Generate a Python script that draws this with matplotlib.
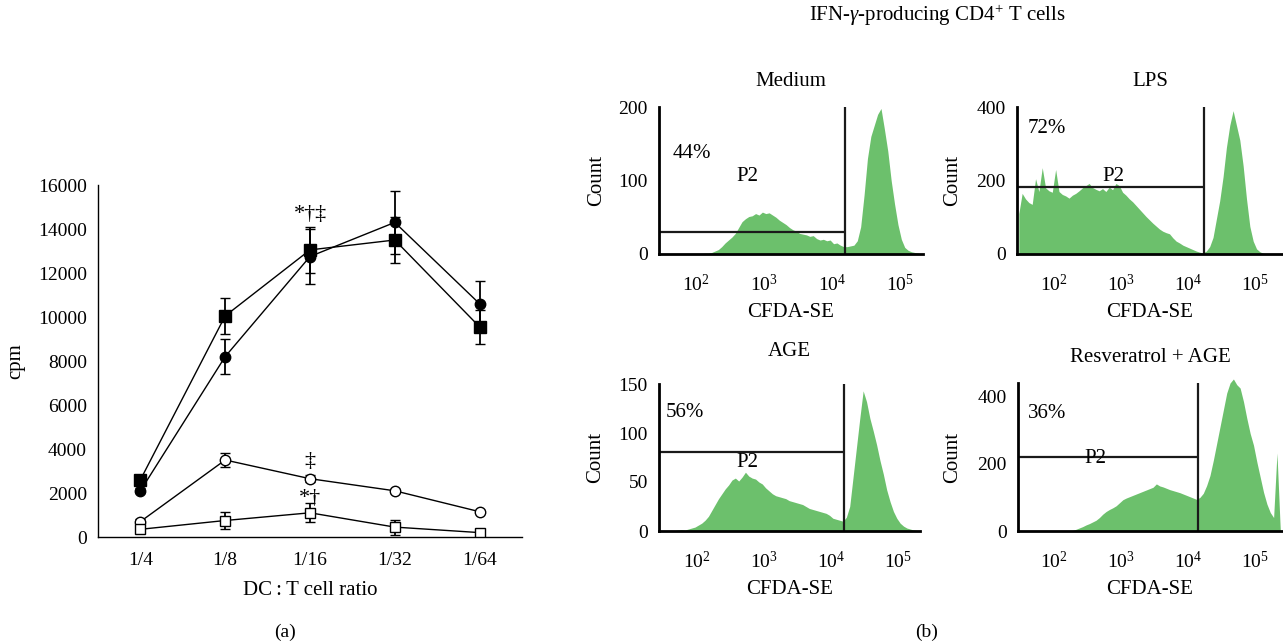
import numpy as np
import matplotlib
matplotlib.use("Agg")
import matplotlib.pyplot as plt

plt.rcParams["font.family"] = ["Liberation Serif", "DejaVu Serif"]
plt.rcParams["mathtext.fontset"] = "custom"
plt.rcParams["mathtext.rm"] = "Liberation Serif"
plt.rcParams["mathtext.it"] = "Liberation Serif:italic"

# ---------------- (a) proliferation ----------------
ratios = ["1/4", "1/8", "1/16", "1/32", "1/64"]
filled_sq = [2600, 10050, 13050, 13500, 9550]
filled_sq_err = [150, 800, 1030, 1060, 760]
filled_ci = [2100, 8200, 12750, 14300, 10600]
filled_ci_err = [120, 810, 1250, 1440, 1050]
open_ci = [700, 3500, 2650, 2100, 1150]
open_ci_err = [120, 330, 150, 100, 80]
open_sq = [350, 750, 1100, 450, 200]
open_sq_err = [100, 400, 430, 340, 80]
yticks_a = [0, 2000, 4000, 6000, 8000, 10000, 12000, 14000, 16000]

# significance marks: (label, ratio index, y)
sig_marks = [("*\u2020\u2021", 2, 14650), ("\u2021", 2, 3450), ("*\u2020", 2, 1770)]

# ---------------- (b) CFDA-SE histograms ----------------
panel_titles = ["Medium", "LPS", "AGE", "Resveratrol + AGE"]
percents = ["44%", "72%", "56%", "36%"]
bin_start = 1.45   # log10 of first bin edge
bin_step = 0.05    # bin width in decades

medium_counts = [0, 0, 0, 0, 0, 0, 0, 0, 0, 0,
                 0.3, 0.5, 0.5, 1, 1, 2, 4, 6, 10, 15,
                 19, 23, 28, 36, 44, 48, 51, 52, 55, 53,
                 57, 55, 56, 53, 50, 46, 43, 40, 36, 33,
                 31, 28, 27, 26, 24, 25, 21, 19, 20, 18,
                 19, 14, 15, 12, 10, 10, 11, 12, 18, 37,
                 80, 130, 160, 175, 190, 198, 170, 140, 100, 68,
                 40, 20, 9, 5, 3, 2, 1, 0, 0]
lps_counts = [110, 165, 150, 140, 135, 205, 170, 235, 180, 172,
              168, 230, 170, 162, 158, 152, 160, 165, 172, 180,
              186, 192, 181, 176, 172, 178, 170, 182, 175, 192,
              186, 168, 160, 150, 142, 132, 122, 112, 102, 93,
              84, 76, 68, 62, 58, 55, 44, 35, 30, 24,
              20, 16, 12, 8, 5, 3, 8, 20, 45, 95,
              145, 210, 290, 350, 390, 350, 310, 240, 150, 75,
              35, 14, 6, 2, 1, 0, 0, 0, 0, 0]
age_counts = [0, 0, 0, 0, 0.5, 1, 1.5, 1, 2, 3,
              4, 6, 8, 11, 15, 21, 27, 33, 38, 43,
              47, 52, 54, 51, 55, 60, 56, 54, 53, 50,
              48, 44, 41, 38, 36, 35, 34, 33, 31, 30,
              29, 28, 27, 25, 23, 22, 21, 20, 19, 18,
              16, 13, 12, 11, 10, 14, 25, 55, 85, 115,
              143, 132, 115, 102, 88, 72, 58, 42, 30, 20,
              13, 8, 5, 3, 2, 1, 0.5, 0]
resv_counts = [0, 0, 0, 0, 0, 0, 0, 0, 0, 0,
               0, 0, 0, 0, 0, 0.5, 2, 5, 9, 13,
               18, 22, 27, 32, 40, 50, 58, 64, 69, 75,
               84, 93, 98, 102, 106, 110, 114, 118, 122, 126,
               130, 140, 134, 131, 127, 123, 120, 117, 114, 110,
               106, 102, 98, 94, 100, 112, 135, 165, 210, 260,
               310, 360, 410, 440, 452, 435, 425, 385, 335, 290,
               255, 205, 160, 115, 80, 55, 40, 232, 0]
hist_counts = [medium_counts, lps_counts, age_counts, resv_counts]
y_max = [200, 400, 150, 440]
y_ticks = [[0, 100, 200], [0, 200, 400], [0, 50, 100, 150], [0, 200, 400]]
gate_edge = [15500, 17400, 15500, 13800]   # CFDA-SE value of the P2 gate boundary
gate_level = [30, 183, 81, 221]            # height of the P2 gate marker

GREEN = "#6cc06c"
TICK_FS = 14
LABEL_FS = 15

W, H = 1283, 642
fig = plt.figure(figsize=(W / 100, H / 100), dpi=100)


def frac(x0, y_top, x1, y_bot):
    return [x0 / W, 1 - y_bot / H, (x1 - x0) / W, (y_bot - y_top) / H]


# ---- panel (a)
ax = fig.add_axes(frac(98, 185, 522, 537))
x = np.arange(len(ratios))
common = dict(color="black", lw=1.0, elinewidth=1.3, capsize=3.5, capthick=1.3,
              markeredgecolor="black", markeredgewidth=1.0)
ax.errorbar(x, filled_ci, yerr=filled_ci_err, marker="o", ms=7.5, mfc="black", **common)
ax.errorbar(x, filled_sq, yerr=filled_sq_err, marker="s", ms=8, mfc="black", **common)
ax.errorbar(x, open_ci, yerr=open_ci_err, marker="o", ms=7.5, mfc="white", **common)
ax.errorbar(x, open_sq, yerr=open_sq_err, marker="s", ms=7, mfc="white", **common)
for label, i, yv in sig_marks:
    ax.text(x[i], yv, label, ha="center", va="center", fontsize=16)
ax.set_xlim(-0.5, 4.5)
ax.set_ylim(0, 16000)
ax.set_xticks(x)
ax.set_xticklabels(ratios)
ax.set_yticks(yticks_a)
ax.tick_params(length=0, labelsize=TICK_FS)
ax.tick_params(axis="x", pad=11)
ax.tick_params(axis="y", pad=8)
for s in ("top", "right"):
    ax.spines[s].set_visible(False)
for s in ("left", "bottom"):
    ax.spines[s].set_linewidth(1.0)
ax.set_ylabel("cpm", fontsize=LABEL_FS)
ax.yaxis.set_label_coords(-0.172, 0.5)
ax.set_xlabel("DC\u2009:\u2009T cell ratio", fontsize=LABEL_FS)
ax.xaxis.set_label_coords(0.5, -0.125)

fig.text(285 / W, 1 - 632 / H, "(a)", ha="center", va="center", fontsize=14)
fig.text(927 / W, 1 - 632 / H, "(b)", ha="center", va="center", fontsize=14)
fig.text(937 / W, 1 - 15 / H, r"IFN-$\gamma$-producing CD4$^{+}$ T cells",
         ha="center", va="center", fontsize=15)

# ---- panel (b)
boxes = [(659, 107, 922.7, 254), (1017, 107, 1283, 254),
         (659, 384, 920, 531), (1018, 383, 1282, 531)]
xlims = [(1.45, 5.34), (1.448, 5.42), (1.44, 5.32), (1.46, 5.40)]
title_y = [81, 81, 352, 358]
pct_pos = [(0.125, 0.687), (0.113, 0.857), (0.10, 0.803), (0.11, 0.797)]
p2_pos = [(0.334, 0.524), (0.361, 0.524), (0.337, 0.469), (0.292, 0.493)]
ylab_x = [-0.20, -0.205, -0.205, -0.21]

for k in range(4):
    b = boxes[k]
    hx = fig.add_axes(frac(*b))
    counts = np.asarray(hist_counts[k], dtype=float)
    centers = 10 ** (bin_start + bin_step * (np.arange(len(counts)) + 0.5))
    hx.fill_between(centers, 0, counts, color=GREEN, lw=0, clip_on=(k != 3))
    hx.set_xscale("log")
    hx.set_xlim(10 ** xlims[k][0], 10 ** xlims[k][1])
    hx.set_ylim(0, y_max[k])
    hx.set_xticks([1e2, 1e3, 1e4, 1e5])
    hx.xaxis.set_minor_locator(matplotlib.ticker.NullLocator())
    hx.set_yticks(y_ticks[k])
    hx.tick_params(length=0, labelsize=TICK_FS)
    hx.tick_params(axis="x", pad=14)
    hx.tick_params(axis="y", pad=8)
    for s in ("top", "right"):
        hx.spines[s].set_visible(False)
    for s in ("left", "bottom"):
        hx.spines[s].set_linewidth(2.0)
    # P2 gate
    hx.axvline(gate_edge[k], color="#1a1a1a", lw=1.6)
    hx.hlines(gate_level[k], 10 ** xlims[k][0], gate_edge[k], color="#1a1a1a", lw=1.6)
    hx.text(*pct_pos[k], percents[k], transform=hx.transAxes,
            ha="center", va="center", fontsize=LABEL_FS)
    hx.text(*p2_pos[k], "P2", transform=hx.transAxes,
            ha="center", va="center", fontsize=LABEL_FS)
    hx.set_ylabel("Count", fontsize=LABEL_FS)
    hx.yaxis.set_label_coords(ylab_x[k], 0.5)
    hx.set_xlabel("CFDA-SE", fontsize=LABEL_FS)
    hx.xaxis.set_label_coords(0.5, -0.33)
    fig.text((b[0] + b[2]) / 2 / W, 1 - title_y[k] / H, panel_titles[k],
             ha="center", va="center", fontsize=LABEL_FS)

fig.savefig("out.png", dpi=100)
